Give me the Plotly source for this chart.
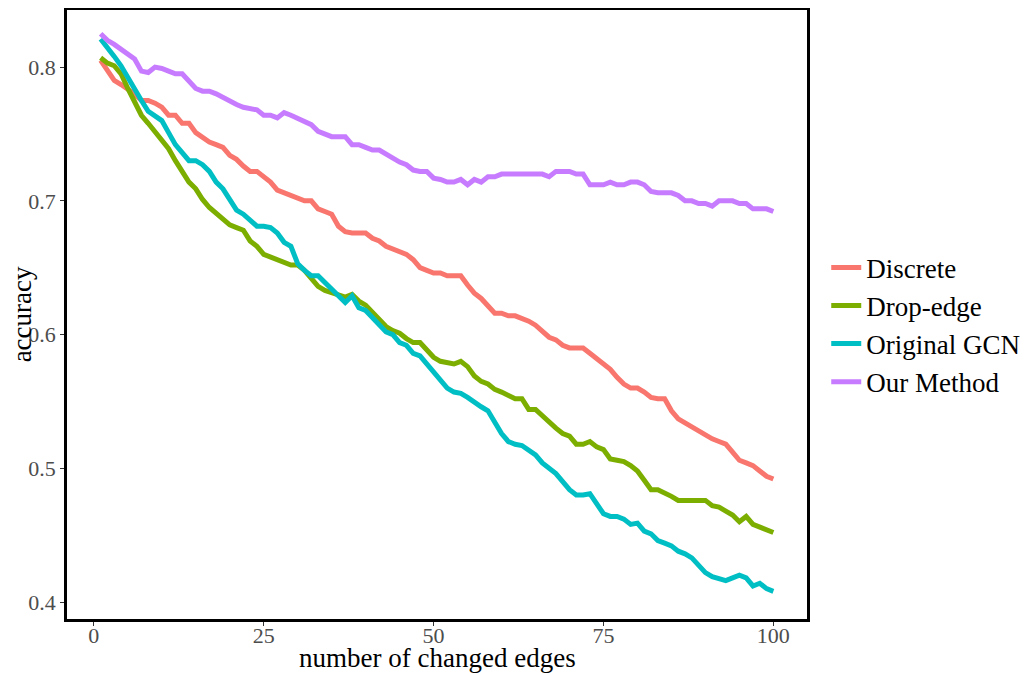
import plotly.graph_objects as go

# number of changed edges
edges = list(range(1, 101))

discrete = [
    0.805, 0.797, 0.790, 0.787, 0.784, 0.780, 0.775, 0.775, 0.773, 0.770,
    0.764, 0.764, 0.758, 0.758, 0.751, 0.747, 0.744, 0.742, 0.740, 0.734,
    0.731, 0.726, 0.722, 0.722, 0.718, 0.714, 0.708, 0.706, 0.704, 0.702,
    0.700, 0.700, 0.694, 0.692, 0.690, 0.681, 0.677, 0.676, 0.676, 0.676,
    0.672, 0.670, 0.666, 0.664, 0.662, 0.660, 0.656, 0.650, 0.648, 0.646,
    0.646, 0.644, 0.644, 0.644, 0.637, 0.631, 0.627, 0.622, 0.616, 0.616,
    0.614, 0.614, 0.612, 0.610, 0.607, 0.603, 0.598, 0.596, 0.592, 0.590,
    0.590, 0.590, 0.586, 0.582, 0.579, 0.574, 0.568, 0.563, 0.560, 0.560,
    0.557, 0.553, 0.552, 0.552, 0.543, 0.537, 0.534, 0.531, 0.527, 0.525,
    0.522, 0.520, 0.518, 0.512, 0.506, 0.504, 0.502, 0.498, 0.494, 0.492,
]

drop_edge = [
    0.807, 0.803, 0.801, 0.795, 0.784, 0.773, 0.764, 0.758, 0.752, 0.746,
    0.739, 0.730, 0.722, 0.714, 0.709, 0.701, 0.695, 0.691, 0.687, 0.682,
    0.680, 0.678, 0.670, 0.666, 0.660, 0.658, 0.656, 0.654, 0.652, 0.652,
    0.648, 0.642, 0.636, 0.633, 0.631, 0.629, 0.628, 0.630, 0.625, 0.622,
    0.617, 0.611, 0.606, 0.603, 0.601, 0.597, 0.594, 0.594, 0.588, 0.583,
    0.580, 0.579, 0.578, 0.580, 0.576, 0.569, 0.565, 0.563, 0.559, 0.557,
    0.554, 0.552, 0.552, 0.544, 0.544, 0.539, 0.534, 0.530, 0.526, 0.524,
    0.518, 0.518, 0.520, 0.516, 0.514, 0.507, 0.506, 0.505, 0.502, 0.498,
    0.491, 0.484, 0.484, 0.482, 0.479, 0.476, 0.476, 0.476, 0.476, 0.476,
    0.472, 0.471, 0.468, 0.465, 0.460, 0.464, 0.458, 0.456, 0.454, 0.452,
]

original_gcn = [
    0.821, 0.815, 0.808, 0.801, 0.792, 0.783, 0.775, 0.767, 0.763, 0.760,
    0.751, 0.742, 0.736, 0.730, 0.730, 0.727, 0.722, 0.714, 0.709, 0.701,
    0.693, 0.690, 0.686, 0.681, 0.681, 0.680, 0.676, 0.669, 0.666, 0.653,
    0.648, 0.644, 0.644, 0.639, 0.634, 0.629, 0.624, 0.629, 0.620, 0.618,
    0.613, 0.607, 0.602, 0.600, 0.594, 0.592, 0.586, 0.584, 0.578, 0.571,
    0.565, 0.560, 0.557, 0.556, 0.553, 0.549, 0.546, 0.543, 0.534, 0.526,
    0.520, 0.518, 0.517, 0.514, 0.510, 0.504, 0.500, 0.496, 0.490, 0.484,
    0.480, 0.480, 0.481, 0.473, 0.466, 0.464, 0.464, 0.462, 0.458, 0.459,
    0.453, 0.451, 0.446, 0.444, 0.442, 0.438, 0.436, 0.433, 0.428, 0.422,
    0.419, 0.417, 0.416, 0.418, 0.420, 0.418, 0.412, 0.414, 0.410, 0.408,
]

our_method = [
    0.825, 0.820, 0.817, 0.813, 0.809, 0.806, 0.797, 0.796, 0.800, 0.799,
    0.797, 0.795, 0.795, 0.789, 0.784, 0.782, 0.782, 0.780, 0.777, 0.774,
    0.772, 0.770, 0.769, 0.768, 0.764, 0.764, 0.762, 0.766, 0.764, 0.762,
    0.760, 0.757, 0.752, 0.750, 0.748, 0.748, 0.748, 0.742, 0.742, 0.740,
    0.738, 0.738, 0.735, 0.731, 0.729, 0.727, 0.723, 0.722, 0.722, 0.717,
    0.716, 0.714, 0.714, 0.716, 0.712, 0.716, 0.714, 0.718, 0.718, 0.720,
    0.720, 0.720, 0.720, 0.720, 0.720, 0.720, 0.718, 0.722, 0.722, 0.722,
    0.720, 0.720, 0.712, 0.712, 0.712, 0.714, 0.712, 0.712, 0.714, 0.714,
    0.712, 0.707, 0.706, 0.706, 0.706, 0.704, 0.700, 0.700, 0.698, 0.698,
    0.696, 0.700, 0.700, 0.700, 0.698, 0.698, 0.694, 0.694, 0.694, 0.692,
]

series = [
    ("Discrete", discrete, "#F8766D"),
    ("Drop-edge", drop_edge, "#7CAE00"),
    ("Original GCN", original_gcn, "#00BFC4"),
    ("Our Method", our_method, "#C77CFF"),
]

FONT = "Liberation Serif, Times New Roman, serif"

fig = go.Figure()
for name, vals, col in series:
    fig.add_trace(go.Scatter(x=edges, y=vals, mode="lines", name=name,
                             line=dict(color=col, width=5)))

axis_style = dict(
    showgrid=False, zeroline=False, automargin=False,
    showline=True, mirror=True, linecolor="black", linewidth=2.5,
    ticks="outside", ticklen=4, tickwidth=1, tickcolor="#333333",
    tickfont=dict(family=FONT, size=22, color="#4D4D4D"),
)

# page body adds an 8px offset, so the figure is a bit smaller than the window
fig.update_layout(
    width=1027, height=665,
    margin=dict(l=59, r=228, t=2, b=54),
    plot_bgcolor="white", paper_bgcolor="white",
    font=dict(family=FONT, color="black"),
    legend=dict(x=1.026, y=0.483, xanchor="left", yanchor="middle",
                font=dict(family=FONT, size=27, color="black"),
                itemwidth=30, tracegroupgap=0),
)
fig.update_xaxes(axis_style, range=[-3.95, 104.95], tickvals=[0, 25, 50, 75, 100],
                 ticklabelstandoff=-9)
fig.update_yaxes(axis_style, range=[0.3873, 0.8427], tickvals=[0.4, 0.5, 0.6, 0.7, 0.8],
                 tickformat=".1f")

fig.add_annotation(text="number of changed edges", xref="paper", yref="paper",
                   x=0.5, y=-0.064, xanchor="center", yanchor="middle",
                   showarrow=False, font=dict(family=FONT, size=27, color="black"))
fig.add_annotation(text="accuracy", xref="paper", yref="paper",
                   x=-0.061, y=0.5, xanchor="center", yanchor="middle", textangle=-90,
                   showarrow=False, font=dict(family=FONT, size=27, color="black"))

fig.write_html("out.html")
